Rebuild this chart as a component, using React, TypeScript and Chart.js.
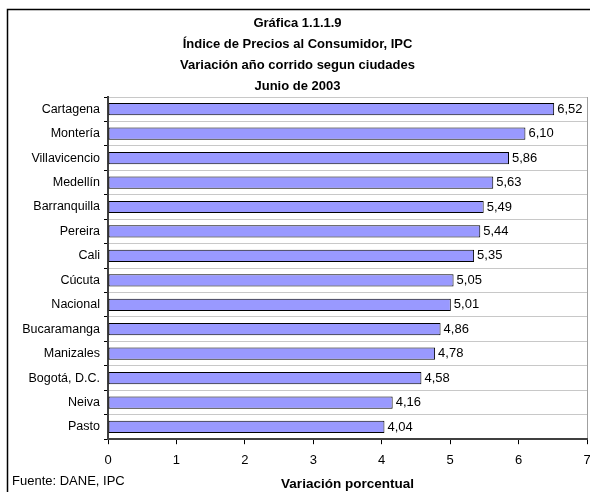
import { useEffect, useRef } from "react";
import { Chart, registerables } from "chart.js";

Chart.register(...registerables);

const cities = [
  "Cartagena",
  "Montería",
  "Villavicencio",
  "Medellín",
  "Barranquilla",
  "Pereira",
  "Cali",
  "Cúcuta",
  "Nacional",
  "Bucaramanga",
  "Manizales",
  "Bogotá, D.C.",
  "Neiva",
  "Pasto",
];
const variation = [6.52, 6.1, 5.86, 5.63, 5.49, 5.44, 5.35, 5.05, 5.01, 4.86, 4.78, 4.58, 4.16, 4.04];
const titleLines = [
  "Gráfica 1.1.1.9",
  "Índice de Precios al Consumidor, IPC",
  "Variación año corrido segun ciudades",
  "Junio de 2003",
];
const xAxisTitle = "Variación porcentual";
const sourceNote = "Fuente: DANE, IPC";
const xMin = 0;
const xMax = 7;

const FONT = "'Liberation Sans', Arial, sans-serif";

export default function App() {
  const ref = useRef<HTMLCanvasElement | null>(null);

  useEffect(() => {
    document.body.style.margin = "0";
    const canvas = ref.current;
    if (!canvas) return;

    const extras = {
      id: "extras",
      beforeDraw(chart: any) {
        const ctx = chart.ctx;
        ctx.save();
        ctx.fillStyle = "#ffffff";
        ctx.fillRect(0, 0, chart.width, chart.height);
        ctx.restore();
      },
      afterDraw(chart: any) {
        const ctx = chart.ctx;
        ctx.save();
        // outer frame
        ctx.strokeStyle = "#000000";
        ctx.lineWidth = 1.5;
        ctx.beginPath();
        ctx.moveTo(7.5, chart.height);
        ctx.lineTo(7.5, 9.5);
        ctx.lineTo(chart.width, 9.5);
        ctx.stroke();

        // value labels
        const meta = chart.getDatasetMeta(0);
        ctx.fillStyle = "#000000";
        ctx.font = `13px ${FONT}`;
        ctx.textAlign = "left";
        ctx.textBaseline = "middle";
        meta.data.forEach((bar: any, i: number) => {
          const v = variation[i];
          ctx.fillText(v.toFixed(2).replace(".", ","), bar.x + 3, bar.y);
        });

        // source note
        ctx.font = `13px ${FONT}`;
        ctx.textBaseline = "alphabetic";
        ctx.fillText(sourceNote, 12, 485);
        ctx.restore();
      },
    };

    const chart = new Chart(canvas, {
      type: "bar",
      data: {
        labels: cities,
        datasets: [
          {
            data: variation,
            backgroundColor: "#9999FF",
            borderColor: "#000000",
            borderWidth: 1,
            borderSkipped: false,
            categoryPercentage: 0.5,
            barPercentage: 1,
          },
        ],
      },
      options: {
        indexAxis: "y",
        animation: false,
        responsive: false,
        maintainAspectRatio: false,
        layout: { padding: { left: 8, right: 3, top: 0, bottom: 0 } },
        plugins: {
          legend: { display: false },
          tooltip: { enabled: false },
          title: {
            display: true,
            text: titleLines,
            color: "#000000",
            font: { family: FONT, size: 13, weight: "bold", lineHeight: 21 / 13 },
            padding: { top: 13, bottom: 0 },
          },
        },
        scales: {
          x: {
            type: "linear",
            min: xMin,
            max: xMax,
            ticks: {
              stepSize: 1,
              color: "#000000",
              font: { family: FONT, size: 13 },
              padding: 8,
            },
            grid: {
              color: (c: any) => (c.tick && c.tick.value === xMax ? "#a0a0a0" : "rgba(0,0,0,0)"),
              tickColor: "#000000",
              tickLength: 5,
              drawTicks: true,
            },
            border: { display: true, color: "#404040", width: 2 },
            title: {
              display: true,
              text: xAxisTitle,
              color: "#000000",
              font: { family: FONT, size: 13.5, weight: "bold" },
              padding: { top: 0, bottom: 0 },
            },
            afterFit: (scale: any) => {
              scale.paddingLeft = 0;
              scale.paddingRight = 0;
            },
          },
          y: {
            type: "category",
            ticks: {
              color: "#000000",
              font: { family: FONT, size: 12.5 },
              padding: 4,
              autoSkip: false,
            },
            grid: {
              offset: true,
              color: "#c8c8c8",
              tickColor: "#000000",
              tickLength: 4,
            },
            border: { display: true, color: "#404040", width: 2 },
            afterFit: (scale: any) => {
              scale.width = 100;
              scale.paddingTop = 0;
              scale.paddingBottom = 0;
            },
          },
        },
      } as any,
      plugins: [extras],
    });

    return () => chart.destroy();
  }, []);

  return <canvas ref={ref} width={590} height={492} style={{ display: "block", width: 590, height: 492 }} />;
}
